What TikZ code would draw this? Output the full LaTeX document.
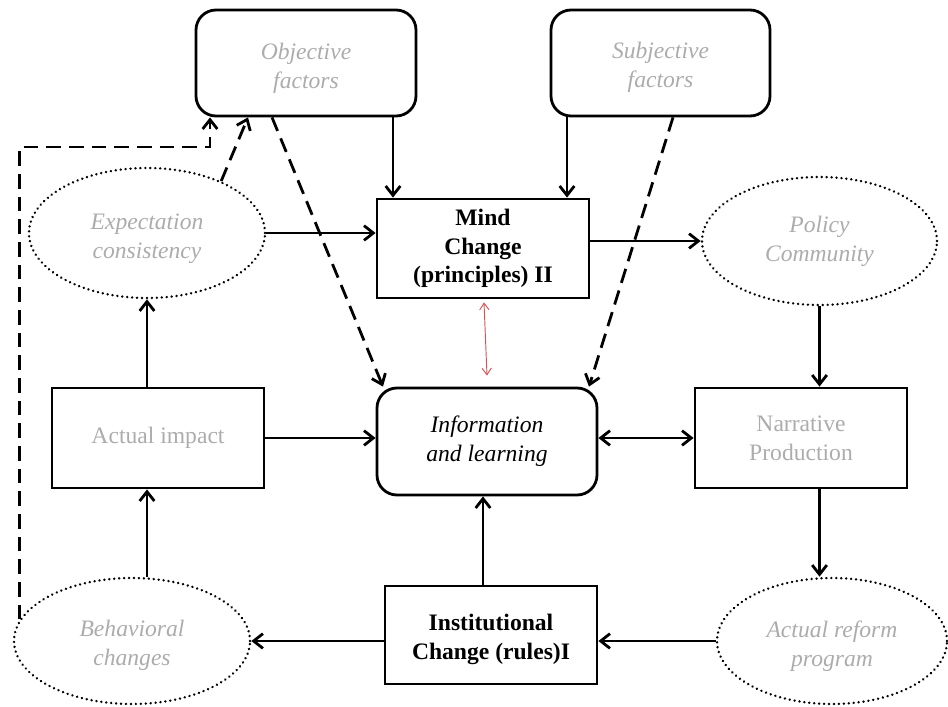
\documentclass[tikz,border=0pt]{standalone}
\usepackage{fontspec}
\setmainfont{Liberation Serif}
\usetikzlibrary{arrows.meta,shapes.geometric,calc}
\definecolor{txtgray}{RGB}{172,172,172}
\definecolor{redarr}{RGB}{212,84,84}
\newcommand{\lowtxt}[3]{\raisebox{-#1}[\height][\depth]{\begin{tabular}{@{}c@{}}#2\\#3\end{tabular}}}
\begin{document}
\begin{tikzpicture}[x=0.75pt,y=-0.75pt,
  every node/.style={font=\fontsize{17.7}{21.6}\selectfont, align=center, inner sep=0pt},
  boxr/.style={draw, line width=2.1pt, rounded corners=15pt},
  boxs/.style={draw, line width=2.1pt},
  ell/.style={ellipse, draw, line width=2pt, dash pattern=on 0.01pt off 3.7pt, line cap=round},
  gtxt/.style={text=txtgray},
  arr/.style={line width=2.1pt, -{Straight Barb[length=7pt,width=11pt]}},
  darr/.style={line width=2.1pt, -{Straight Barb[length=7pt,width=11pt]}, dash pattern=on 11pt off 6pt},
  rarr/.style={line width=0.7pt, draw=redarr, {Straight Barb[length=5pt,width=7pt]}-{Straight Barb[length=5pt,width=7pt]}}
]
\useasboundingbox (0,0) rectangle (948,706);
% nodes
\node[boxr, gtxt, minimum width=165pt, minimum height=79.5pt] (obj) at (306,63) {\lowtxt{3.75pt}{\itshape Objective}{\itshape factors}};
\node[boxr, gtxt, minimum width=164.25pt, minimum height=79.5pt] (subj) at (660.5,63) {\lowtxt{3pt}{\itshape Subjective}{\itshape factors}};
\node[boxs, minimum width=159pt, minimum height=74.25pt] (mind) at (483,248.5) {\bfseries Mind\\\bfseries Change\\\bfseries (principles) II};
\node[ell, gtxt, minimum width=177pt, minimum height=97.5pt] (exp) at (147,233) {\lowtxt{3.75pt}{\itshape Expectation}{\itshape consistency}};
\node[ell, gtxt, minimum width=176.25pt, minimum height=96pt] (pol) at (819.5,241) {\itshape Policy\\\itshape Community};
\node[boxs, gtxt, minimum width=159pt, minimum height=75pt] (act) at (158,438) {\raisebox{3pt}{Actual impact}};
\node[boxr, minimum width=165pt, minimum height=80.25pt] (info) at (487,441.5) {\itshape Information\\\itshape and learning};
\node[boxs, gtxt, minimum width=159pt, minimum height=75pt] (narr) at (801,438) {Narrative\\Production};
\node[ell, gtxt, minimum width=177pt, minimum height=94.5pt] (beh) at (132,641) {\lowtxt{3pt}{\itshape Behavioral}{\itshape changes}};
\node[boxs, minimum width=159pt, minimum height=73.5pt] (inst) at (491,635) {\lowtxt{3.4pt}{\bfseries Institutional}{\bfseries Change (rules)I}};
\node[ell, gtxt, minimum width=172.5pt, minimum height=94.5pt] (ref) at (832,641) {\lowtxt{4pt}{\itshape Actual reform}{\itshape program}};
% helper coordinates
\coordinate (c393) at (393,0);
\coordinate (c567) at (567,0);
\coordinate (c483) at (483,0);
\coordinate (r1) at (484,0);
\coordinate (r2) at (487,0);
\coordinate (d1) at (248,0);
\coordinate (d2) at (272,0);
\coordinate (d3) at (383,0);
\coordinate (d4) at (673,0);
\coordinate (d5) at (589,0);
\coordinate (lc) at (210,147);
% solid connectors
\draw[arr] (obj.south -| c393) -- (mind.north -| c393);
\draw[arr] (subj.south -| c567) -- (mind.north -| c567);
\draw[arr] (exp.east) -- (mind.west |- exp.east);
\draw[arr] (mind.east |- pol.west) -- (pol.west);
\draw[arr] (act.north -| exp.south) -- (exp.south);
\draw[arr] (beh.north -| exp.south) -- (act.south -| exp.south);
\draw[arr] (act.east) -- (info.west |- act.east);
\draw[arr, {Straight Barb[length=7pt,width=11pt]}-{Straight Barb[length=7pt,width=11pt]}] (info.east |- narr.west) -- (narr.west);
\draw[arr] (pol.south) -- (narr.north -| pol.south);
\draw[arr] (narr.south -| pol.south) -- (ref.north -| pol.south);
\draw[arr] (ref.west) -- (inst.east |- ref.west);
\draw[arr] (inst.west |- beh.east) -- (beh.east);
\draw[arr] (inst.north -| c483) -- (info.south -| c483);
% red
\draw[rarr] ([yshift=-2.25pt]mind.south -| r1) -- ([yshift=8.25pt]info.north -| r2);
% dashed
\draw[darr] (exp.35) -- (obj.south -| d1);
\draw[darr] (beh.169) |- (lc) -- (obj.south -| lc);
\draw[darr] (obj.south -| d2) -- (info.north -| d3);
\draw[darr] (subj.south -| d4) -- (info.north -| d5);
\end{tikzpicture}
\end{document}
